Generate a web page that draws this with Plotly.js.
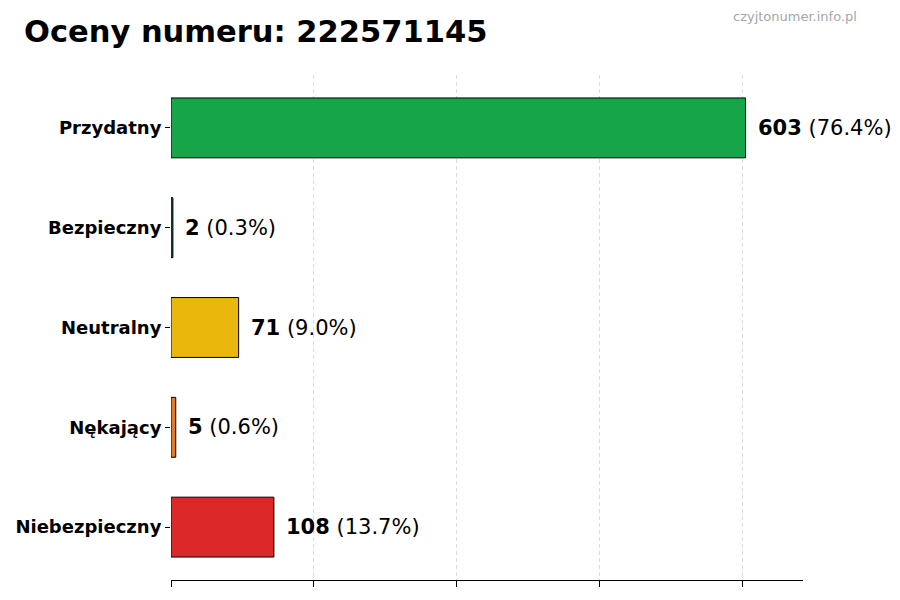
<!DOCTYPE html>
<html>
<head>
<meta charset="utf-8">
<script src="https://cdn.plot.ly/plotly-3.0.1.min.js"></script>
<style>
  html, body { margin: 0; padding: 0; background: #fff; }
  #chart { width: 900px; height: 600px; }
</style>
</head>
<body>
<div id="chart"></div>
<script>
// chart data, top bar first
const categories = ['Przydatny', 'Bezpieczny', 'Neutralny', 'Nękający', 'Niebezpieczny'];
const counts = [603, 2, 71, 5, 108];
const barColors = ['#17a54a', '#1c6150', '#eab70c', '#e07b2a', '#dc2828'];
const gridTicks = [0, 150, 300, 450, 600];

const total = counts.reduce((a, b) => a + b, 0);

// one label per bar: bold count plus percentage
const annotations = categories.map((cat, i) => ({
  x: counts[i],
  y: cat,
  xref: 'x',
  yref: 'y',
  text: '<b>' + counts[i] + '</b> (' + (counts[i] / total * 100).toFixed(1) + '%)',
  showarrow: false,
  xanchor: 'left',
  xshift: 10,
  font: { family: 'DejaVu Sans', size: 21, color: '#000' }
}));

// watermark in the top right corner (pixel position converted to paper units)
annotations.push({
  x: (859 - 171) / (900 - 171 - 97),
  y: 1 + (75 - 17) / (600 - 75 - 20),
  xref: 'paper', yref: 'paper',
  xanchor: 'right', yanchor: 'middle',
  text: 'czyjtonumer.info.pl',
  showarrow: false,
  font: { family: 'DejaVu Sans', size: 13, color: '#a6a6a6' }
});

const trace = {
  type: 'bar',
  orientation: 'h',
  y: categories,
  x: counts,
  width: 0.6,
  marker: { color: barColors, line: { color: '#000', width: 1 } },
  hoverinfo: 'skip'
};

const layout = {
  width: 900,
  height: 600,
  margin: { l: 171, r: 97, t: 75, b: 20 },
  paper_bgcolor: '#fff',
  plot_bgcolor: '#fff',
  showlegend: false,
  font: { family: 'DejaVu Sans', color: '#000' },
  title: {
    text: '<b>Oceny numeru: 222571145</b>',
    x: 24 / 900, xanchor: 'left',
    y: 1 - 31 / 600, yanchor: 'middle',
    font: { family: 'DejaVu Sans', size: 30.5, color: '#000' }
  },
  xaxis: {
    range: [0, 663.3],
    tickvals: gridTicks,
    showticklabels: false,
    ticks: 'outside',
    ticklen: 6,
    tickcolor: '#000',
    showgrid: true,
    gridcolor: '#dddddd',
    griddash: '4px,3px',
    gridwidth: 1,
    zeroline: false,
    showline: true,
    linecolor: '#000',
    linewidth: 1
  },
  yaxis: {
    type: 'category',
    range: [4.53, -0.53],
    tickvals: categories,
    ticktext: categories.map(c => '<b>' + c + '</b>'),
    ticks: 'outside',
    ticklen: 5,
    tickcolor: '#000',
    tickfont: { family: 'DejaVu Sans', size: 18, color: '#000' },
    showgrid: false,
    zeroline: false,
    showline: false
  },
  annotations: annotations
};

Plotly.newPlot('chart', [trace], layout, { displayModeBar: false, staticPlot: true });
</script>
</body>
</html>
